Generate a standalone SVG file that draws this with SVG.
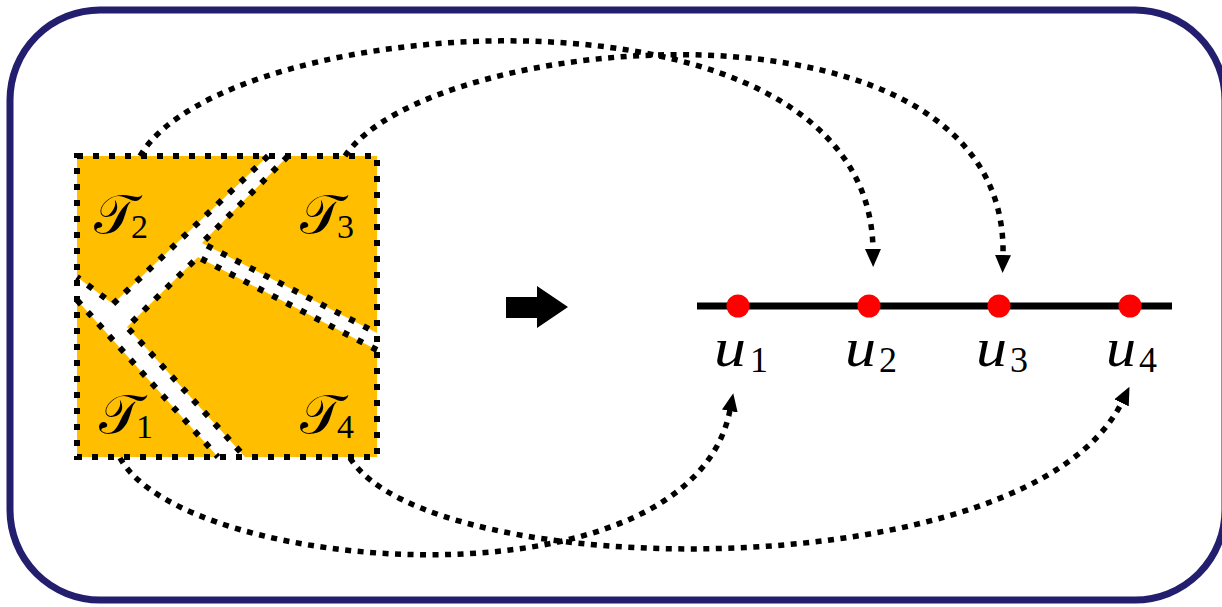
<svg xmlns="http://www.w3.org/2000/svg" width="1222" height="607" viewBox="0 0 1222 607">
<style>
.region{fill:#ffbf00;stroke:none}
.edge{fill:none;stroke:#000;stroke-width:6;stroke-dasharray:6 10}
.conn{fill:none;stroke:#000;stroke-width:5.5;stroke-dasharray:6 6.5}
.tl{font-family:"DejaVu Serif","Liberation Serif",serif;font-size:55px;fill:#000}
.sub{font-family:"Liberation Serif",serif;font-style:normal;font-size:34px;fill:#000}
.usub{font-family:"Liberation Serif",serif;font-style:normal;font-size:36px;fill:#000}
.ul{font-family:"Liberation Serif",serif;font-style:italic;font-size:54px;fill:#000}
.node{fill:#ff0000}
</style>
<defs>
<marker id="ah" viewBox="0 0 18 16" refX="1" refY="8" markerWidth="18" markerHeight="16" markerUnits="userSpaceOnUse" orient="auto"><path d="M0,0 L18,8 L0,16 z" fill="#000"/></marker>
</defs>
<rect id="frame" x="10" y="10" width="1215" height="590" rx="90" ry="90" fill="#fff" stroke="#241e6e" stroke-width="7"/>
<g id="T2">
<polygon class="region" points="77,156 268,156 113,304 77,277"/>
<polyline class="edge" points="268,156 113,304 77,277"/>
<text class="tl" x="94" y="233">𝒯</text><text class="sub" x="131" y="238">2</text>
</g>
<g id="T3">
<polygon class="region" points="288,156 377,156 377,333 202,243"/>
<polyline class="edge" points="288,156 202,243 377,333"/>
<text class="tl" x="300" y="233">𝒯</text><text class="sub" x="337" y="238">3</text>
</g>
<g id="T4">
<polygon class="region" points="198,257 377,350 377,457 245,457 127,327"/>
<polyline class="edge" points="377,350 198,257 127,327 245,457"/>
<text class="tl" x="300" y="433">𝒯</text><text class="sub" x="337" y="438">4</text>
</g>
<g id="T1">
<polygon class="region" points="77,300 218,457 77,457"/>
<polyline class="edge" points="77,300 218,457"/>
<text class="tl" x="99" y="433">𝒯</text><text class="sub" x="136" y="438">1</text>
</g>
<rect id="square" class="edge" x="77" y="156" width="300" height="301"/>
<polygon id="bigarrow" points="506,297 537,297 537,286 568,307 537,328 537,318 506,318" fill="#000"/>
<line id="axis" x1="697" y1="306" x2="1172" y2="306" stroke="#000" stroke-width="7"/>
<g id="u1"><circle class="node" cx="738" cy="306" r="11.5"/><text class="ul" x="714" y="366" textLength="32" lengthAdjust="spacingAndGlyphs">u</text><text class="usub" x="750" y="372">1</text></g>
<g id="u2"><circle class="node" cx="869" cy="306" r="11.5"/><text class="ul" x="845" y="366" textLength="31" lengthAdjust="spacingAndGlyphs">u</text><text class="usub" x="879" y="372">2</text></g>
<g id="u3"><circle class="node" cx="999" cy="306" r="11.5"/><text class="ul" x="976" y="366" textLength="31" lengthAdjust="spacingAndGlyphs">u</text><text class="usub" x="1010" y="372">3</text></g>
<g id="u4"><circle class="node" cx="1130" cy="306" r="11.5"/><text class="ul" x="1106" y="366" textLength="30" lengthAdjust="spacingAndGlyphs">u</text><text class="usub" x="1139" y="372">4</text></g>
<g id="connectors">
<path class="conn" d="M140,156 C225,10 870,-35 873,250" marker-end="url(#ah)"/>
<path class="conn" d="M345,156 C430,30 1010,-20 1003,256" marker-end="url(#ah)"/>
<path class="conn" d="M120,458 C185,575 690,615 730,410" marker-end="url(#ah)"/>
<path class="conn" d="M350,458 C430,585 1030,590 1122,402" marker-end="url(#ah)"/>
</g>
</svg>
